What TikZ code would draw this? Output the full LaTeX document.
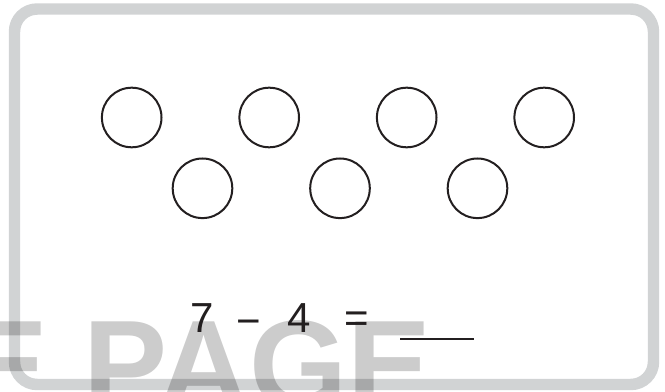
\documentclass[tikz,border=0pt]{standalone}
\usepackage{fontspec}
\setmainfont{Liberation Sans}
\definecolor{framegray}{HTML}{D1D3D4}
\definecolor{ink}{HTML}{231F20}
\begin{document}
\begin{tikzpicture}[x=0.75pt,y=-0.75pt,
  ring/.style={circle, draw=ink, line width=1.5pt, minimum size=44.7pt, inner sep=0pt},
  sym/.style={anchor=base, inner sep=0pt, text=ink, font=\fontsize{31.5}{36}\selectfont}]
\useasboundingbox (0,0) rectangle (665,392);
\clip (0,0) rectangle (665,392);
\draw[framegray, line width=8.6pt, rounded corners=17pt] (14.5,9) rectangle (653.5,384.5);
\node[anchor=base west, inner sep=0pt, text=black, text opacity=0.2,
  font=\fontsize{94.5}{100}\selectfont\bfseries] (mark) at (-35.6,408) {E PAGE};
\foreach \i/\x in {1/131.7,2/269.2,3/406.7,4/544.2}{
    \node[ring] (upper\i) at (\x,117.5) {};
}
\foreach \i/\x in {1/202.5,2/340,3/477.5}{
    \node[ring] (lower\i) at (\x,188.3) {};
}
\node[sym] (seven) at (202.5,333) {7};
\node[sym] (minus) at (248.5,336) {−};
\node[sym] (four) at (299,333) {4};
\node[sym] (equals) at (356.5,333) {=};
\coordinate (blankL) at (400,339);
\coordinate (blankR) at (474,339);
\draw[ink, line width=1.5pt] (blankL) -- (blankR);
\end{tikzpicture}
\end{document}
